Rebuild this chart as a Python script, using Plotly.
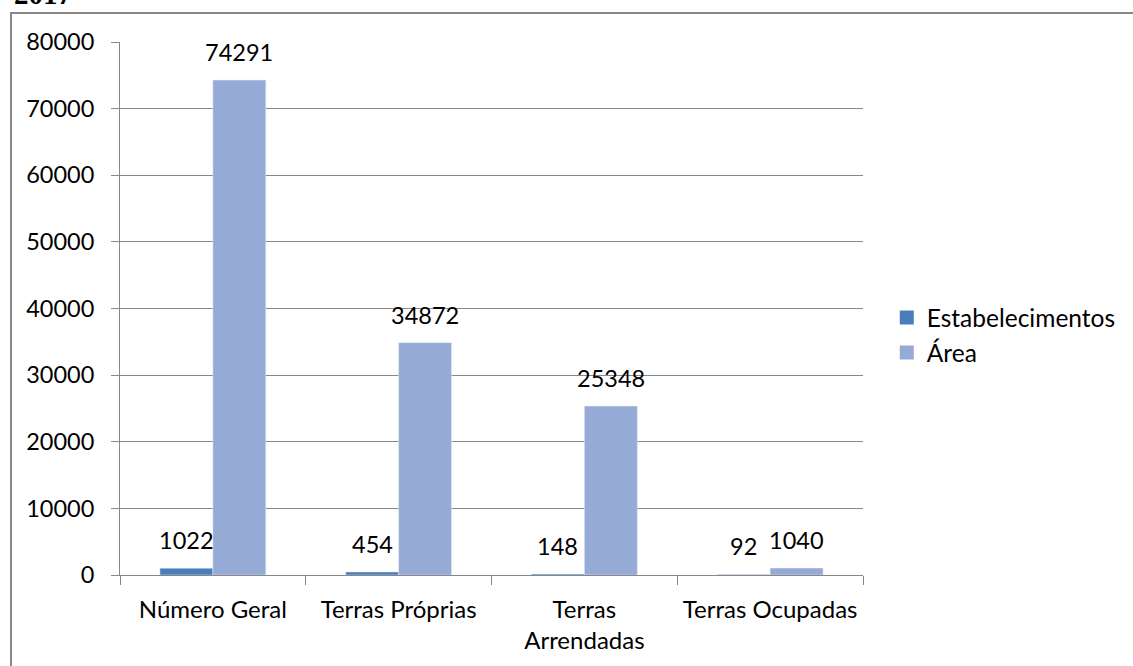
import plotly.graph_objects as go

categorias = ["Número Geral", "Terras Próprias", "Terras<br>Arrendadas", "Terras Ocupadas"]
series = ["Estabelecimentos", "Área"]
estabelecimentos = [1022, 454, 148, 92]
area = [74291, 34872, 25348, 1040]
cores = ["#4A7EBB", "#95ABD5"]

FONT = "Lato, Calibri, sans-serif"
GRID = "#878787"

fig = go.Figure()
for nome, valores, cor in zip(series, [estabelecimentos, area], cores):
    fig.add_trace(go.Bar(x=categorias, y=valores, name=nome,
                         marker=dict(color=cor), showlegend=False))
    # legenda com quadrados maiores
    fig.add_trace(go.Scatter(x=[None], y=[None], name=nome, mode="markers",
                             marker=dict(symbol="square", size=14, color=cor)))

# rótulos de dados acima das barras
for valores, dx in [(estabelecimentos, -26.5), (area, 26.5)]:
    for cat, v in zip(categorias, valores):
        fig.add_annotation(x=cat, y=v, text=str(v), showarrow=False,
                           xanchor="center", yanchor="bottom",
                           xshift=dx, yshift=12,
                           font=dict(family=FONT, size=23.5, color="#000000"))

fig.update_layout(
    width=1133, height=666,
    margin=dict(l=120, r=270, t=42, b=91),
    paper_bgcolor="white", plot_bgcolor="white",
    font=dict(family=FONT, size=23.5, color="#000000"),
    barmode="group", bargap=0.43, bargroupgap=0,
    legend=dict(x=1.032, y=0.45, xanchor="left", yanchor="middle",
                font=dict(size=24.5), itemwidth=30),
)
fig.update_xaxes(
    showline=True, linecolor=GRID, linewidth=1,
    ticks="outside", tickson="boundaries", ticklen=9, tickcolor=GRID,
    ticklabelstandoff=13, tickfont=dict(size=24),
    showgrid=False,
)
fig.update_yaxes(
    range=[0, 80000], dtick=10000, tickformat="d",
    showline=True, linecolor=GRID, linewidth=1,
    ticks="outside", ticklen=8, tickcolor=GRID,
    ticklabelstandoff=12,
    showgrid=True, gridcolor=GRID, gridwidth=1, zeroline=False,
)

# moldura do gráfico
fig.add_shape(type="rect", xref="paper", yref="paper",
              x0=(11 - 120) / 743, x1=(1145 - 120) / 743,
              y0=(575 - 680) / 533, y1=(575 - 13) / 533,
              line=dict(color=GRID, width=2), layer="below")

# título cortado no topo
fig.add_annotation(text="<b>2017</b>", xref="paper", yref="paper",
                   x=(12 - 120) / 743, y=(575 - 12) / 533,
                   xanchor="left", yanchor="bottom", showarrow=False,
                   font=dict(family="Liberation Serif", size=29, color="#000000"))

fig.write_html("out.html", config={"displayModeBar": False},
               post_script="document.body.style.margin='0';")
